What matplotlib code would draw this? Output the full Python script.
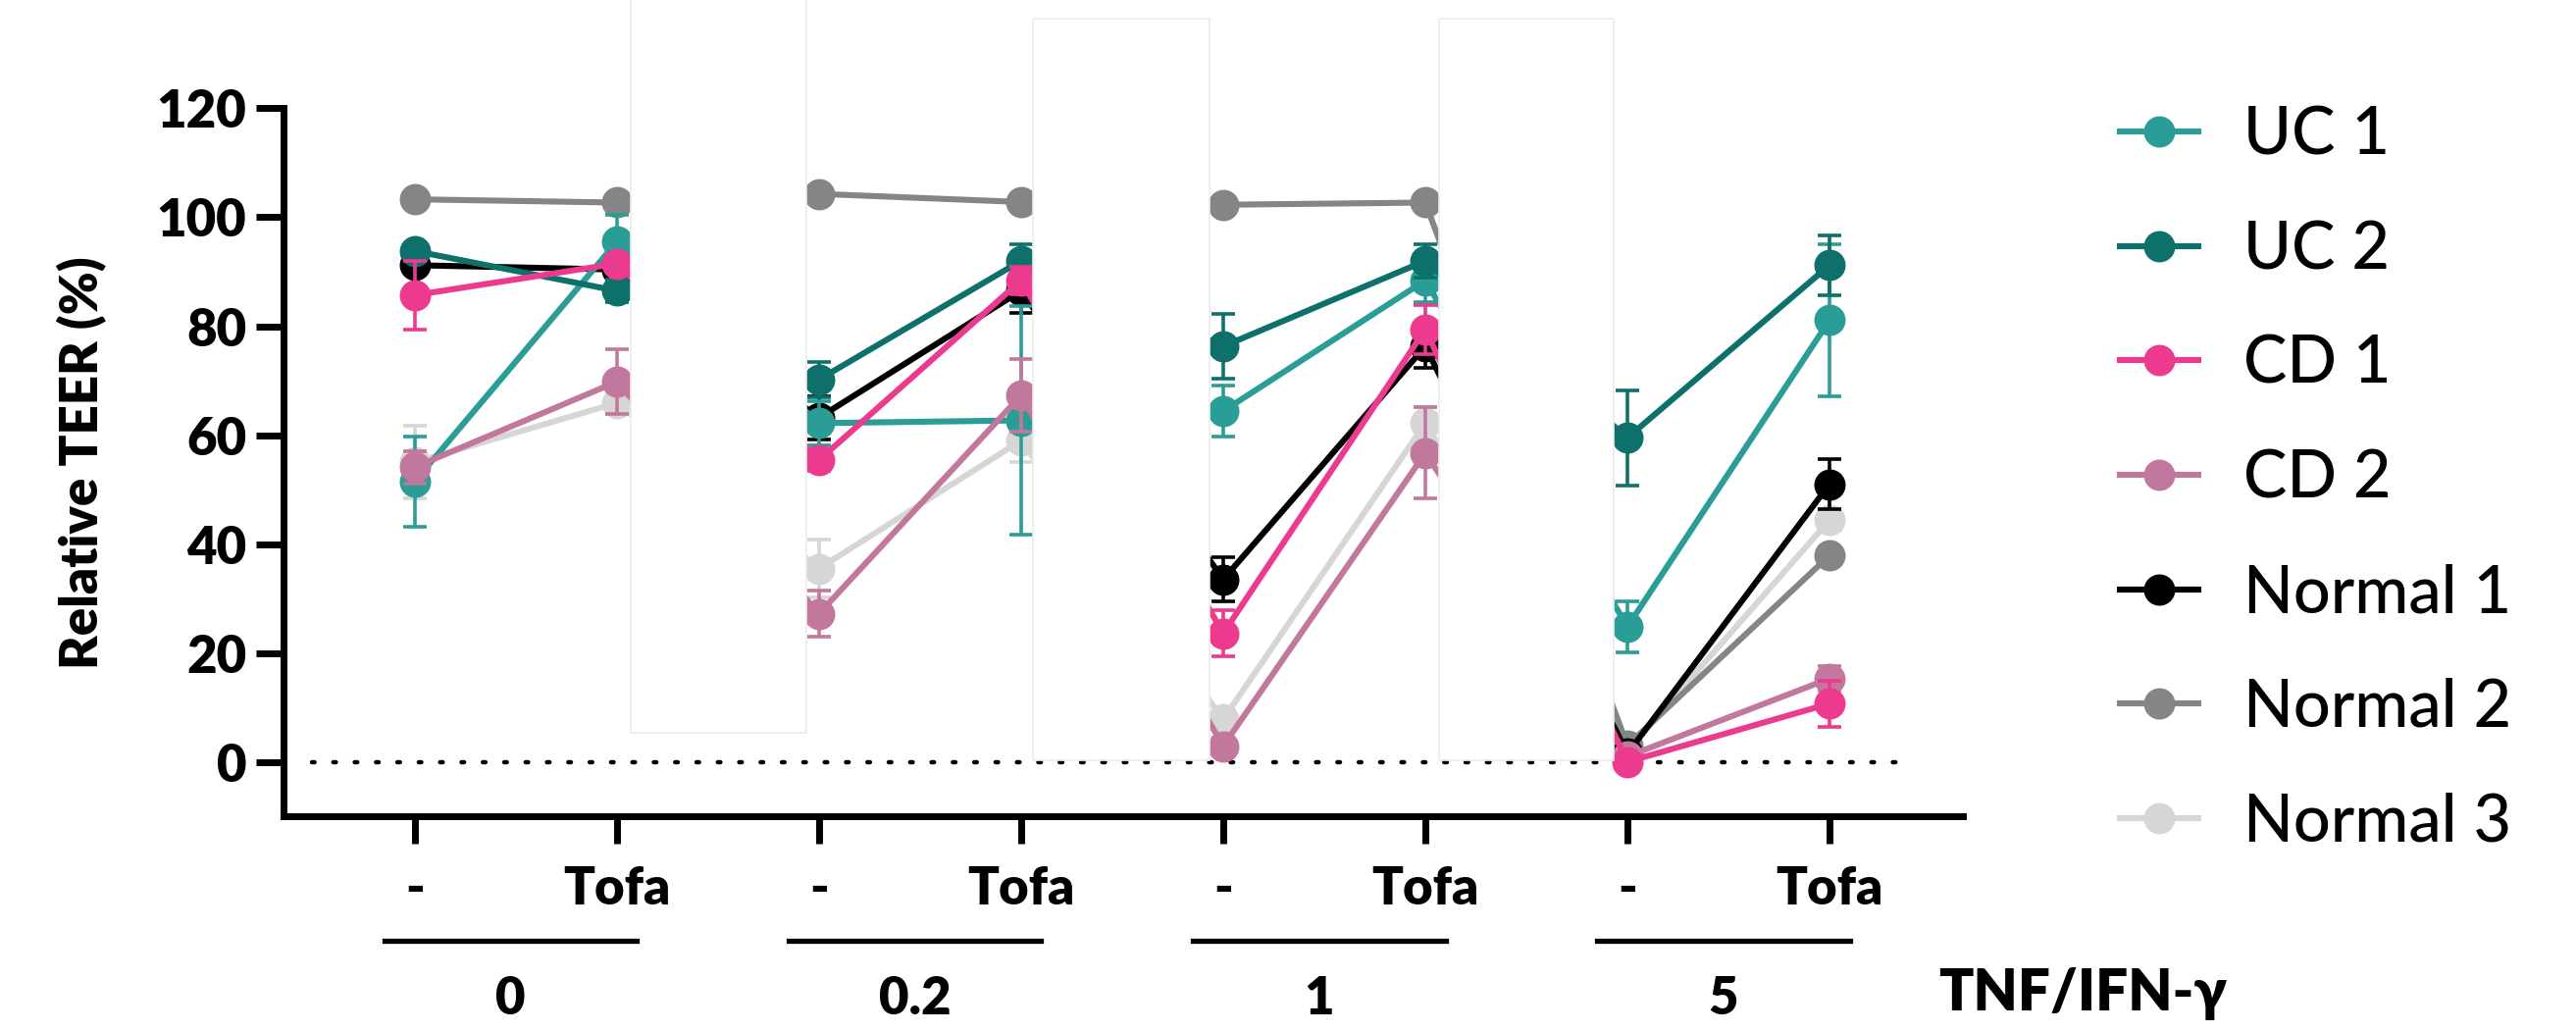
import numpy as np
import matplotlib
matplotlib.use("Agg")
import matplotlib.pyplot as plt
from matplotlib.patches import Rectangle
from matplotlib.lines import Line2D

plt.rcParams['font.family'] = ['Lato', 'DejaVu Sans']

# x positions: 4 doses x (- / Tofa)
tick_labels = ['-', 'Tofa'] * 4
doses = ['0', '0.2', '1', '5']

series = ['UC 1', 'UC 2', 'CD 1', 'CD 2', 'Normal 1', 'Normal 2', 'Normal 3']
colors = ['#2a9d96', '#0d706a', '#ec3a8f', '#c2789c', '#000000', '#858585', '#d6d6d6']

uc1 = [51.5, 95.5, 62.2, 62.7, 64.4, 88.4, 24.8, 81.1]
uc2 = [93.8, 86.5, 70.2, 92.0, 76.3, 92.0, 59.5, 91.2]
cd1 = [85.7, 91.5, 55.4, 88.4, 23.6, 79.4, 0.0, 10.7]
cd2 = [54.1, 69.8, 27.2, 67.3, 2.9, 56.7, 1.0, 15.3]
normal1 = [91.2, 90.4, 63.2, 86.5, 33.5, 76.3, 1.5, 51.0]
normal2 = [103.3, 102.7, 104.3, 102.8, 102.3, 102.7, 3.0, 37.9]
normal3 = [55.0, 65.9, 35.5, 59.0, 7.8, 62.2, 2.0, 44.4]

uc1_err = [8.3, 5.0, 4.0, 21.0, 4.7, 4.0, 4.7, 14.0]
uc2_err = [1.5, 2.0, 3.2, 3.0, 6.0, 3.0, 8.7, 5.5]
cd1_err = [6.3, 1.5, 2.0, 2.5, 4.3, 4.5, 1.0, 4.2]
cd2_err = [3.0, 6.0, 4.3, 6.6, 1.5, 8.4, 1.0, 2.2]
normal1_err = [1.5, 3.0, 4.0, 4.0, 4.0, 4.0, 1.0, 4.6]
normal2_err = [1.0, 1.0, 0.5, 1.0, 1.0, 1.0, 1.0, 1.5]
normal3_err = [6.7, 2.0, 5.3, 4.0, 2.0, 3.0, 1.0, 2.0]

values = [uc1, uc2, cd1, cd2, normal1, normal2, normal3]
errors = [uc1_err, uc2_err, cd1_err, cd2_err, normal1_err, normal2_err, normal3_err]

x = np.arange(len(tick_labels))

fig = plt.figure(figsize=(13.13, 5.26), dpi=200)
ax = fig.add_axes([0.110, 0.209, 0.652, 0.686])

# stacking order seen in the picture (bottom -> top)
z_order = {'Normal 3': 3, 'Normal 2': 4, 'Normal 1': 5, 'UC 1': 6, 'UC 2': 7, 'CD 2': 8, 'CD 1': 9}

for name, col, v, e in zip(series, colors, values, errors):
    ax.errorbar(x, v, yerr=e, color=col, lw=2.2, marker='o', ms=10.5,
                capsize=4.2, elinewidth=1.3, capthick=1.3, zorder=z_order[name],
                label=name)

# dotted zero line
ax.plot([-0.51, 7.4], [0, 0], color='black', lw=1.6, ls=(0, (0.6, 4.3)),
        dash_capstyle='round', zorder=2)

# white masks hiding the links between dose groups
masks = [(1.07, 1.94, 5.4, 150), (3.06, 3.93, 0.3, 136.4), (5.07, 5.93, 0.3, 136.4)]
for x0, x1, y0, y1 in masks:
    ax.add_patch(Rectangle((x0, y0), x1 - x0, y1 - y0, facecolor='white',
                           edgecolor='#ebebeb', lw=0.6, zorder=20, clip_on=False))

ax.set_xlim(-0.65, 7.66)
ax.set_ylim(-10, 120)
ax.set_yticks(np.arange(0, 121, 20))
ax.set_xticks(x)
ax.set_xticklabels(tick_labels)

for s in ['top', 'right']:
    ax.spines[s].set_visible(False)
for s in ['left', 'bottom']:
    ax.spines[s].set_linewidth(2.5)
ax.spines['left'].set_bounds(-10, 120)

ax.tick_params(axis='both', width=2.5, length=10, labelsize=19)
ax.tick_params(axis='x', pad=8)
for lab in ax.get_xticklabels() + ax.get_yticklabels():
    lab.set_fontweight('heavy')

ax.set_ylabel('Relative TEER (%)', fontsize=19, fontweight='heavy', labelpad=18)

# dose group underlines and labels
for g, d in enumerate(doses):
    ax.plot([2 * g - 0.15, 2 * g + 1.1], [-0.176, -0.176], color='black', lw=1.9,
            transform=ax.get_xaxis_transform(), clip_on=False)
    ax.text(2 * g + 0.475, -0.258, d, transform=ax.get_xaxis_transform(),
            ha='center', va='center', fontsize=19, fontweight='heavy')

fig.text(0.7526, 0.037, 'TNF/IFN-γ', fontsize=21, fontweight='heavy',
         ha='left', va='center')

handles = [Line2D([0], [0], color=c, lw=2.2, marker='o', ms=10.5) for c in colors]
fig.legend(handles, series, loc='upper left', bbox_to_anchor=(0.8, 0.955),
           frameon=False, handlelength=1.2, handletextpad=0.7,
           labelspacing=0.82, prop={'size': 24, 'weight': 'medium'})

fig.savefig('out.png', dpi=200)
